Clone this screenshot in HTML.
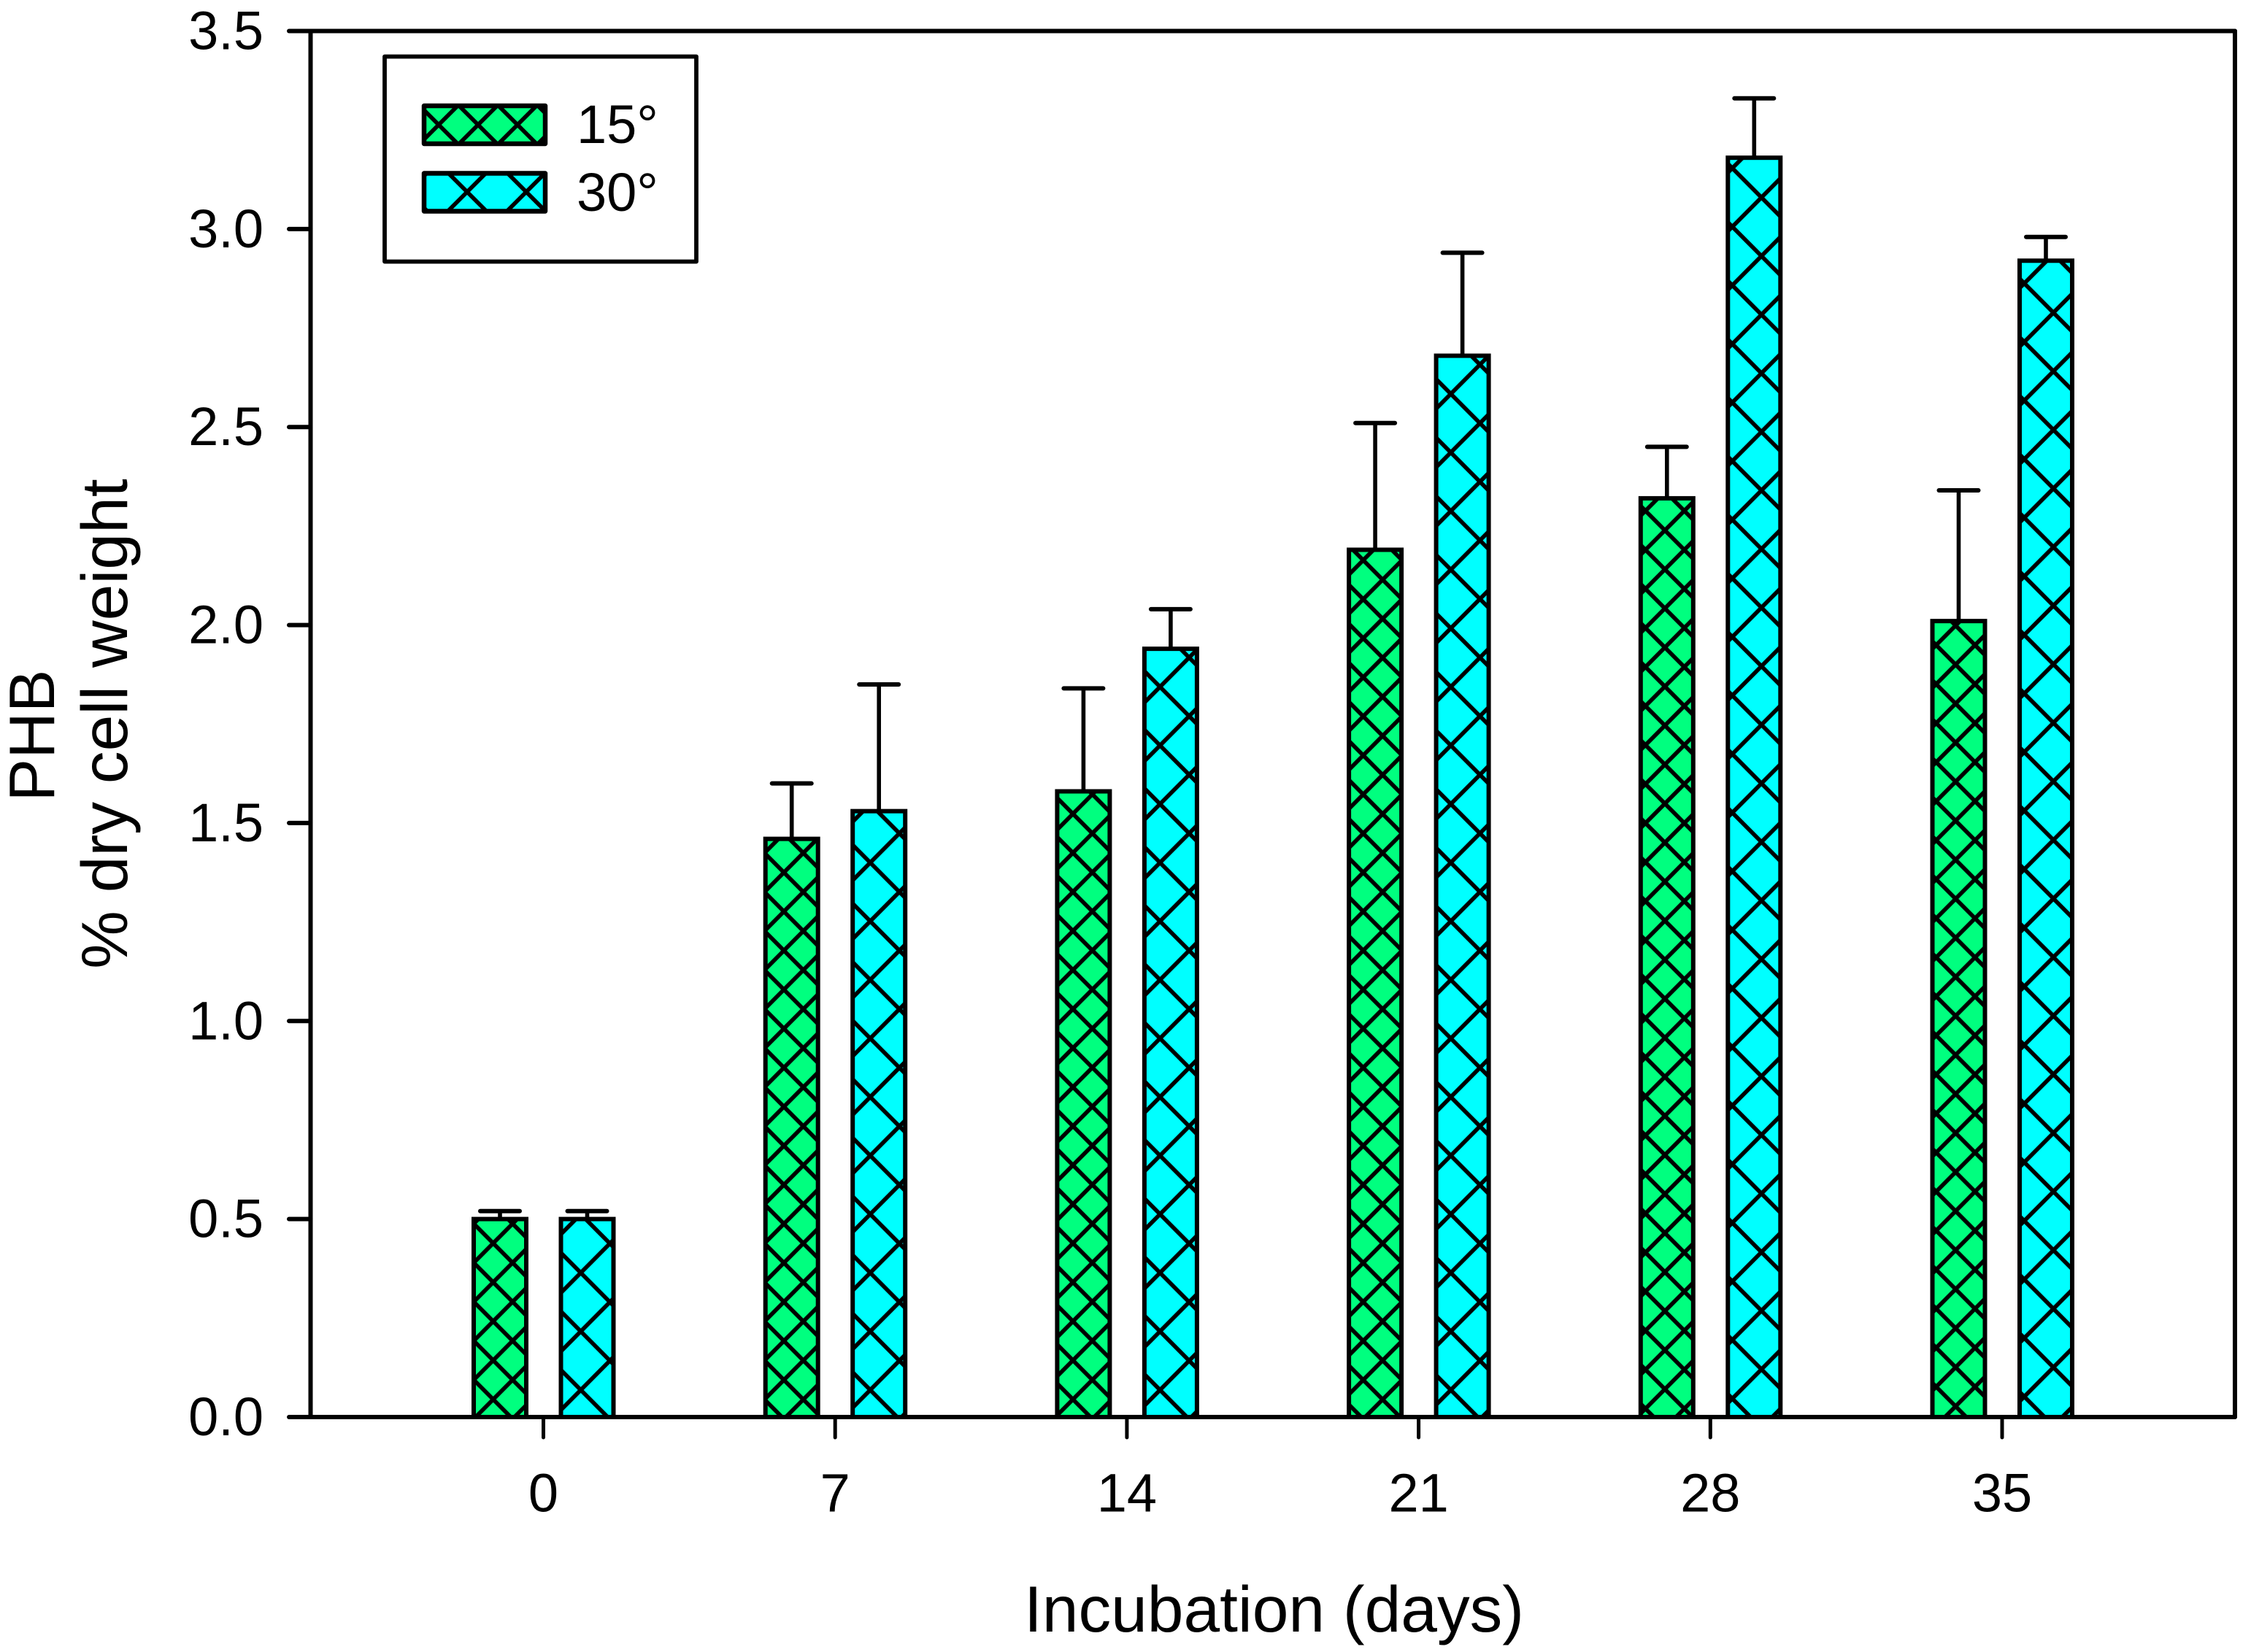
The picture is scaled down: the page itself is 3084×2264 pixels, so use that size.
<!DOCTYPE html>
<html>
<head>
<meta charset="utf-8">
<title>PHB by incubation time</title>
<style>
html,body{margin:0;padding:0;background:#fff;}
svg{display:block;}
text{font-family:"Liberation Sans",Arial,sans-serif;fill:#000;}
</style>
</head>
<body>
<svg id="chart" xmlns="http://www.w3.org/2000/svg" width="3084" height="2264" viewBox="0 0 3084 2264">
<rect x="0" y="0" width="3084" height="2264" fill="#fff"/>
<defs id="defs"></defs>
<g id="bars"></g>
<g id="axes"></g>
<g id="legend">
<rect x="527" y="77.5" width="427" height="281" fill="#fff" stroke="#000" stroke-width="5.8" stroke-linejoin="round"/>
<g>
<rect x="581" y="145" width="166" height="52" fill="#00ff7f"/>
<rect x="581" y="145" width="166" height="52" fill="url(#hatch-legend-15)" stroke="#000" stroke-width="6.5" stroke-linejoin="round"/>
<text x="790" y="196" font-size="74">15°</text>
</g>
<g>
<rect x="581" y="237.5" width="166" height="52" fill="#00ffff"/>
<rect x="581" y="237.5" width="166" height="52" fill="url(#hatch-legend-30)" stroke="#000" stroke-width="6.5" stroke-linejoin="round"/>
<text x="790" y="289" font-size="74">30°</text>
</g>
</g>
<text x="1745.5" y="2236" font-size="89.3" text-anchor="middle">Incubation (days)</text>
<text transform="translate(74 1008) rotate(-90)" font-size="88" text-anchor="middle">PHB</text>
<text transform="translate(174 992) rotate(-90)" font-size="89.5" text-anchor="middle">% dry cell weight</text>
</svg>
<script>
// Chart data
var categories = ['0', '7', '14', '21', '28', '35'];
var values15 = [0.50, 1.46, 1.58, 2.19, 2.32, 2.01];
var errors15 = [0.02, 0.14, 0.26, 0.32, 0.13, 0.33];
var values30 = [0.50, 1.53, 1.94, 2.68, 3.18, 2.92];
var errors30 = [0.02, 0.32, 0.10, 0.26, 0.15, 0.06];
var yTickLabels = ['0.0', '0.5', '1.0', '1.5', '2.0', '2.5', '3.0', '3.5'];

// Texture styling only: where each bar's crosshatch lattice is anchored (not chart data)
var hatchTexture15 = [[675.7, 1757.3], [1074, 1730.7], [1470, 1757.3], [1867.7, 1730.7], [2281, 1743.3], [2679.3, 1713.3]];
var hatchTexture30 = [[795.7, 1744.3], [1192.3, 1744.3], [1589.3, 1744.3], [1987.7, 1744.3], [2413.3, 1716], [2813.3, 1713.3]];

var NS = 'http://www.w3.org/2000/svg';
var plotLeft = 425.5, plotRight = 3062, plotTop = 42.5, plotBottom = 1942;
var yMax = 3.5;
var firstTickX = 744.5, bandStep = 399.7;
var barOffset15 = -59.5, barOffset30 = 60, barWidth = 72, capWidth = 54;

function yScale(v) { return plotBottom - (v / yMax) * (plotBottom - plotTop); }
function xBand(i) { return firstTickX + i * bandStep; }

function make(tag, attrs, parent) {
  var el = document.createElementNS(NS, tag);
  for (var k in attrs) { el.setAttribute(k, attrs[k]); }
  parent.appendChild(el);
  return el;
}

function addPattern(id, px, py, ox, oy) {
  var defs = document.getElementById('defs');
  var p = make('pattern', {
    id: id, patternUnits: 'userSpaceOnUse', width: px, height: py,
    patternTransform: 'translate(' + ox + ' ' + oy + ')'
  }, defs);
  var d = '';
  for (var k = -1; k <= 1; k++) {
    d += 'M' + (-px) + ' ' + (-py - k * py) + 'L' + (2 * px) + ' ' + (2 * py - k * py);
  }
  for (var m = 0; m <= 2; m++) {
    d += 'M' + (-px) + ' ' + (m * py + py) + 'L' + (2 * px) + ' ' + (m * py - 2 * py);
  }
  make('path', { d: d, stroke: '#000', 'stroke-width': 5.6, fill: 'none' }, p);
}
addPattern('hatch-legend-15', 54, 54, 601, 171);
addPattern('hatch-legend-30', 81, 81, 640, 263);

var barsGroup = document.getElementById('bars');
var axesGroup = document.getElementById('axes');

function drawSeries(values, errors, offset, fill, anchors, px, py, label) {
  values.forEach(function (v, i) {
    var cx = xBand(i) + offset;
    var top = yScale(v);
    var errTop = yScale(v + errors[i]);
    var hatchId = 'hatch-' + label + '-' + i;
    addPattern(hatchId, px, py, anchors[i][0], anchors[i][1]);

    var g = document.createElementNS(NS, 'g');
    
    
    barsGroup.appendChild(g);

    var stem = document.createElementNS(NS, 'line');
    
    
    stem.setAttribute('x1', cx); stem.setAttribute('x2', cx);
    stem.setAttribute('y1', top); stem.setAttribute('y2', errTop);
    stem.setAttribute('stroke', '#000'); stem.setAttribute('stroke-width', 5.6);
    g.appendChild(stem);

    var cap = document.createElementNS(NS, 'line');
    
    
    cap.setAttribute('x1', cx - capWidth / 2); cap.setAttribute('x2', cx + capWidth / 2);
    cap.setAttribute('y1', errTop); cap.setAttribute('y2', errTop);
    cap.setAttribute('stroke', '#000'); cap.setAttribute('stroke-width', 6);
    cap.setAttribute('stroke-linecap', 'round');
    g.appendChild(cap);

    var bar = document.createElementNS(NS, 'rect');
    
    
    bar.setAttribute('x', cx - barWidth / 2); bar.setAttribute('width', barWidth);
    bar.setAttribute('y', top); bar.setAttribute('height', plotBottom - top);
    bar.setAttribute('fill', fill);
    g.appendChild(bar);

    var hatch = document.createElementNS(NS, 'rect');
    
    
    hatch.setAttribute('x', cx - barWidth / 2); hatch.setAttribute('width', barWidth);
    hatch.setAttribute('y', top); hatch.setAttribute('height', plotBottom - top);
    hatch.setAttribute('fill', 'url(#' + hatchId + ')');
    hatch.setAttribute('stroke', '#000'); hatch.setAttribute('stroke-width', 6);
    g.appendChild(hatch);
  });
}
drawSeries(values15, errors15, barOffset15, '#00ff7f', hatchTexture15, 53.2, 53.5, '15');
drawSeries(values30, errors30, barOffset30, '#00ffff', hatchTexture30, 79.8, 80.3, '30');

function axisLine(name, x1, y1, x2, y2, w) {
  var l = document.createElementNS(NS, 'line');
  
  
  l.setAttribute('x1', x1); l.setAttribute('y1', y1);
  l.setAttribute('x2', x2); l.setAttribute('y2', y2);
  l.setAttribute('stroke', '#000'); l.setAttribute('stroke-width', w);
  l.setAttribute('stroke-linecap', 'round');
  axesGroup.appendChild(l);
}
axisLine('y-axis-line', plotLeft, plotTop, plotLeft, plotBottom, 6);
axisLine('right-axis-line', plotRight, plotTop, plotRight, plotBottom, 6);
axisLine('top-axis-line', plotLeft, plotTop, plotRight, plotTop, 6);
axisLine('x-axis-line', plotLeft, plotBottom, plotRight, plotBottom, 6);

yTickLabels.forEach(function (t) {
  var y = yScale(parseFloat(t));
  axisLine('y-tick-' + t, 396, y, plotLeft, y, 6);
  var txt = document.createElementNS(NS, 'text');
  
  
  txt.setAttribute('x', 361); txt.setAttribute('y', y + 25);
  txt.setAttribute('font-size', 74); txt.setAttribute('text-anchor', 'end');
  txt.textContent = t;
  axesGroup.appendChild(txt);
});

categories.forEach(function (c, i) {
  var x = xBand(i);
  axisLine('x-tick-' + c, x, plotBottom, x, 1970, 5);
  var txt = document.createElementNS(NS, 'text');
  
  
  txt.setAttribute('x', x); txt.setAttribute('y', 2071.5);
  txt.setAttribute('font-size', 74); txt.setAttribute('text-anchor', 'middle');
  txt.textContent = c;
  axesGroup.appendChild(txt);
});
</script>
</body>
</html>
